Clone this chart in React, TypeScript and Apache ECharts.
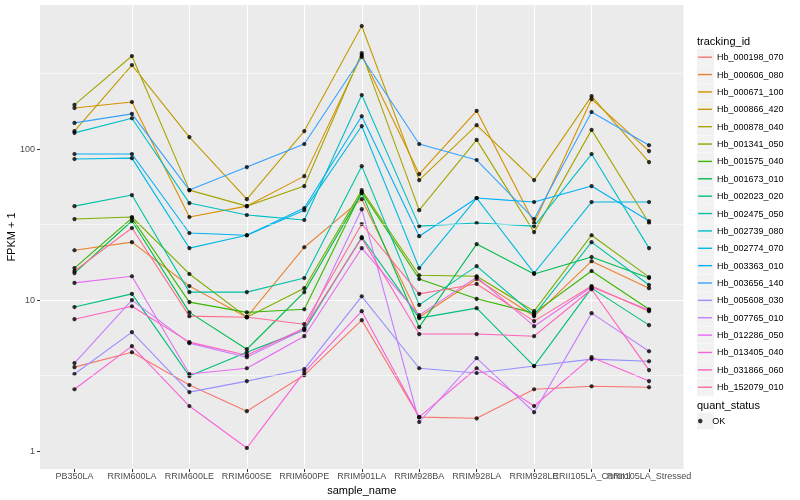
import React, { useEffect, useRef } from "react";
import * as echarts from "echarts";

const categories = [
  "PB350LA", "RRIM600LA", "RRIM600LE", "RRIM600SE", "RRIM600PE", "RRIM901LA",
  "RRIM928BA", "RRIM928LA", "RRIM928LE", "RRII105LA_Control", "RRII105LA_Stressed",
];

const trackingIds = [
  "Hb_000198_070", "Hb_000606_080", "Hb_000671_100", "Hb_000866_420", "Hb_000878_040",
  "Hb_001341_050", "Hb_001575_040", "Hb_001673_010", "Hb_002023_020", "Hb_002475_050",
  "Hb_002739_080", "Hb_002774_070", "Hb_003363_010", "Hb_003656_140", "Hb_005608_030",
  "Hb_007765_010", "Hb_012286_050", "Hb_013405_040", "Hb_031866_060", "Hb_152079_010",
];

const trackingColors = [
  "#F8766D", "#EA8331", "#D89000", "#C09B00", "#A3A500", "#7CAE00", "#39B600", "#00BB4E",
  "#00BF7D", "#00C1A3", "#00BFC4", "#00BAE0", "#00B0F6", "#35A2FF", "#9590FF", "#C77CFF",
  "#E76BF3", "#FA62DB", "#FF62BC", "#FF6C91",
];

// FPKM + 1 values per sample (same order as categories)
const hb_000198_070 = [3.6, 4.52, 2.74, 1.84, 3.19, 7.37, 1.68, 1.65, 2.57, 2.69, 2.65];
const hb_000606_080 = [21.4, 24.2, 12.4, 7.71, 22.4, 46.6, 7.71, 13.8, 7.83, 18.1, 12.0];
const hb_000671_100 = [187, 205, 35.5, 41.9, 66.2, 419, 68.3, 179, 32.4, 214, 97];
const hb_000866_420 = [131.5, 360, 120, 46.6, 131.5, 653, 62.3, 144, 62.3, 224, 82];
const hb_000878_040 = [196, 413, 53.5, 41.9, 56.9, 432, 39.4, 115, 28.2, 134, 32.4];
const hb_001341_050 = [34.4, 35.5, 14.9, 7.71, 12.0, 53.5, 14.6, 14.4, 8.45, 26.9, 14.2];
const hb_001575_040 = [16.3, 34.9, 9.7, 8.3, 8.7, 51.9, 13.8, 10.2, 8.2, 15.6, 8.7];
const hb_001673_010 = [15.1, 33.4, 8.3, 4.73, 11.3, 51.1, 6.62, 23.5, 14.9, 19.3, 14.0];
const hb_002023_020 = [9.0, 11.0, 3.14, 4.52, 6.33, 26.1, 7.6, 8.85, 3.66, 12.0, 6.83];
const hb_002475_050 = [41.9, 49.6, 11.3, 11.3, 14.0, 77.1, 9.3, 16.8, 7.96, 24.2, 12.6];
const hb_002739_080 = [128, 160, 43.9, 36.6, 33.9, 228, 30.9, 32.4, 30.9, 92.7, 22.1];
const hb_002774_070 = [85.9, 87.1, 22.1, 26.9, 39.4, 142, 16.3, 47.4, 15.1, 44.6, 44.6];
const hb_003363_010 = [92.7, 92.7, 27.8, 26.9, 40.7, 165, 26.5, 47.4, 44.6, 56.9, 33.4];
const hb_003656_140 = [149, 171, 53.5, 76, 108, 407, 108, 84.6, 34.4, 176, 106];
const hb_005608_030 = [3.24, 6.14, 2.46, 2.91, 3.49, 10.6, 3.54, 3.29, 3.66, 4.07, 3.94];
const hb_007765_010 = [3.83, 10.0, 5.19, 4.19, 6.4, 40.0, 1.56, 4.13, 1.81, 8.2, 4.59];
const hb_012286_050 = [13.0, 14.4, 3.24, 3.54, 5.77, 22.1, 7.96, 14.2, 6.72, 12.2, 8.6];
const hb_013405_040 = [2.57, 4.96, 1.99, 1.05, 3.34, 8.45, 1.68, 3.54, 1.99, 4.19, 2.91];
const hb_031866_060 = [7.48, 9.1, 5.27, 4.32, 6.53, 25.7, 5.96, 5.96, 5.77, 11.8, 3.44];
const hb_152079_010 = [15.6, 30.0, 7.83, 7.71, 6.93, 31.9, 11.0, 12.8, 7.26, 12.4, 8.45];

const seriesValues = [
  hb_000198_070, hb_000606_080, hb_000671_100, hb_000866_420, hb_000878_040,
  hb_001341_050, hb_001575_040, hb_001673_010, hb_002023_020, hb_002475_050,
  hb_002739_080, hb_002774_070, hb_003363_010, hb_003656_140, hb_005608_030,
  hb_007765_010, hb_012286_050, hb_013405_040, hb_031866_060, hb_152079_010,
];

const yTickValues = [1, 10, 100];
const yMinorValues = [3.1623, 31.623, 316.23];
const quantStatus = ["OK"];

const FONT = "'Liberation Sans', Arial, Helvetica, sans-serif";

export default function App() {
  const ref = useRef<HTMLDivElement>(null);

  useEffect(() => {
    if (!ref.current) return;
    const chart = echarts.init(ref.current, undefined, { renderer: "svg" });

    const xIdx = categories.map((_, i) => i);
    const xIdxEven = xIdx.filter((i) => i % 2 === 0);
    const xIdxOdd = xIdx.filter((i) => i % 2 === 1);
    const catFormatter = (v: number) =>
      Number.isInteger(v) && v >= 0 && v < categories.length ? categories[v] : "";

    const lineSeries = trackingIds.map((id, k) => ({
      name: id,
      type: "line",
      data: seriesValues[k].map((v, i) => [i, v]),
      symbol: "none",
      showSymbol: false,
      lineStyle: { width: 1.1, color: trackingColors[k] },
      itemStyle: { color: trackingColors[k] },
      z: 2,
      silent: true,
      emphasis: { disabled: true },
    }));

    const allPoints: number[][] = [];
    seriesValues.forEach((arr) => arr.forEach((v, i) => allPoints.push([i, v])));

    const legendTop = 48.7;
    const pitch = 17.37;
    const boxes = trackingIds.map((_, i) => ({
      type: "rect",
      z: 0,
      shape: { x: 697, y: legendTop + i * pitch, width: 17, height: 17 },
      style: { fill: "#F2F2F2" },
      silent: true,
    }));

    const labelStyle = {
      fontSize: 9,
      color: "#4D4D4D",
      margin: 2,
      fontFamily: FONT,
      hideOverlap: false,
      formatter: catFormatter,
    };

    chart.setOption({
      animation: false,
      textStyle: { fontFamily: FONT },
      grid: {
        left: 40,
        right: 116.5,
        top: 5,
        bottom: 31,
        show: true,
        backgroundColor: "#EBEBEB",
        borderWidth: 0,
        containLabel: false,
        outerBoundsMode: "none",
      },
      xAxis: [
        {
          type: "value",
          position: "bottom",
          min: -0.6,
          max: 10.6,
          splitNumber: 11,
          name: "sample_name",
          nameLocation: "middle",
          nameGap: 8,
          nameTextStyle: { fontSize: 11, color: "#000", fontFamily: FONT },
          axisLine: { show: false, onZero: false },
          axisTick: {
            show: true,
            length: 3,
            lineStyle: { color: "#333333", width: 1 },
            customValues: xIdx,
          },
          axisLabel: { ...labelStyle, customValues: xIdxEven },
          splitLine: {
            show: true,
            showMinLine: false,
            showMaxLine: false,
            lineStyle: { color: "#FFFFFF", width: 1.07 },
          },
        },
        {
          type: "value",
          position: "bottom",
          min: -0.6,
          max: 10.6,
          splitNumber: 11,
          axisLine: { show: false, onZero: false },
          axisTick: { show: false },
          axisLabel: { ...labelStyle, customValues: xIdxOdd },
          splitLine: { show: false },
        },
      ],
      yAxis: {
        type: "log",
        logBase: 10,
        min: 0.762,
        max: 899,
        name: "FPKM + 1",
        nameLocation: "middle",
        nameRotate: 90,
        nameGap: 24,
        nameMoveOverlap: false,
        nameTextStyle: { fontSize: 11, color: "#000", fontFamily: FONT },
        axisLine: { show: false, onZero: false },
        axisTick: {
          show: true,
          length: 3,
          lineStyle: { color: "#333333", width: 1 },
          customValues: yTickValues,
        },
        axisLabel: {
          fontSize: 9,
          color: "#4D4D4D",
          margin: 5,
          fontFamily: FONT,
          hideOverlap: false,
          customValues: yTickValues,
          formatter: (v: number) =>
            yTickValues.indexOf(Math.round(v * 1000) / 1000) >= 0 ? String(Math.round(v)) : "",
        },
        splitLine: {
          show: true,
          showMinLine: false,
          showMaxLine: false,
          lineStyle: { color: "#FFFFFF", width: 1.07 },
        },
      },
      legend: [
        {
          orient: "vertical",
          left: 698,
          top: legendTop,
          data: trackingIds,
          icon: "rect",
          itemWidth: 14,
          itemHeight: 1.4,
          itemGap: pitch - 17,
          padding: 0,
          selectedMode: false,
          textStyle: { fontSize: 9, color: "#000", lineHeight: 17, fontFamily: FONT },
        },
        {
          orient: "vertical",
          left: 698,
          top: 412.5,
          data: quantStatus,
          icon: "circle",
          itemWidth: 14,
          itemHeight: 4.5,
          padding: 0,
          selectedMode: false,
          textStyle: { fontSize: 9, color: "#000", lineHeight: 17, fontFamily: FONT },
        },
      ],
      graphic: [
        ...boxes,
        {
          type: "rect",
          z: 0,
          shape: { x: 697, y: 412.5, width: 17, height: 17 },
          style: { fill: "#F2F2F2" },
          silent: true,
        },
        {
          type: "text",
          x: 697,
          y: 41,
          style: { text: "tracking_id", fill: "#000", font: `11px ${FONT}`, verticalAlign: "middle" },
          silent: true,
        },
        {
          type: "text",
          x: 697,
          y: 405,
          style: { text: "quant_status", fill: "#000", font: `11px ${FONT}`, verticalAlign: "middle" },
          silent: true,
        },
      ],
      series: [
        {
          name: "__minor_grid",
          type: "line",
          data: [],
          z: 1,
          silent: true,
          markLine: {
            silent: true,
            symbol: ["none", "none"],
            label: { show: false },
            lineStyle: { color: "#FFFFFF", width: 0.55, type: "solid" },
            data: yMinorValues.map((v) => ({ yAxis: v })),
          },
        },
        ...lineSeries,
        {
          name: "OK",
          type: "scatter",
          data: allPoints,
          symbol: "circle",
          symbolSize: 4.2,
          itemStyle: { color: "#000000" },
          z: 3,
          silent: true,
        },
      ],
    });

    return () => chart.dispose();
  }, []);

  return (
    <div
      ref={ref}
      style={{ position: "fixed", left: 0, top: 0, width: 800, height: 500 }}
    />
  );
}
